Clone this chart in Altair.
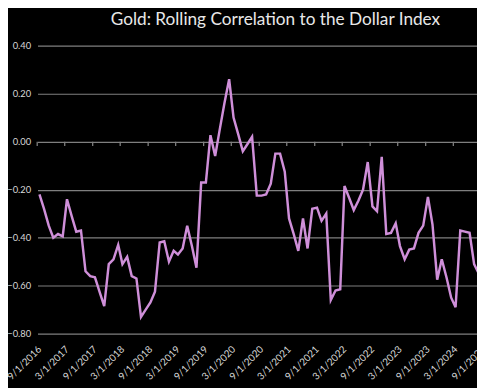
import altair as alt
import pandas as pd

# monthly rolling correlation, Sep 2016 .. Aug 2024
start_month = "2016-09-01"
corr = [
    -0.22, -0.28, -0.35, -0.40, -0.385, -0.395, -0.24, -0.31, -0.375, -0.37,
    -0.54, -0.56, -0.565, -0.625, -0.685, -0.51, -0.49, -0.43, -0.51, -0.48,
    -0.56, -0.57, -0.73, -0.70, -0.67, -0.625, -0.42, -0.415, -0.50, -0.455,
    -0.47, -0.445, -0.35, -0.435, -0.525, -0.17, -0.17, 0.027, -0.06, 0.05,
    0.16, 0.26, 0.10, 0.03, -0.04, -0.01, 0.02, -0.225, -0.225, -0.22,
    -0.175, -0.05, -0.05, -0.125, -0.32, -0.385, -0.455, -0.32, -0.445, -0.28,
    -0.275, -0.33, -0.30, -0.66, -0.62, -0.615, -0.185, -0.235, -0.285, -0.245,
    -0.20, -0.085, -0.27, -0.29, -0.063, -0.385, -0.38, -0.34, -0.435, -0.49,
    -0.45, -0.445, -0.38, -0.35, -0.23, -0.345, -0.575, -0.49, -0.565, -0.65,
    -0.69, -0.37, -0.375, -0.38, -0.51, -0.55,
]
label_dates = [
    "2016-09-01", "2017-03-01", "2017-09-01", "2018-03-01", "2018-09-01",
    "2019-03-01", "2019-09-01", "2020-03-01", "2020-09-01", "2021-03-01",
    "2021-09-01", "2022-03-01", "2022-09-01", "2023-03-01", "2023-09-01",
    "2024-03-01", "2024-09-01",
]
y_ticks = [-0.8, -0.6, -0.4, -0.2, 0.0, 0.2, 0.4]
title_text = "Gold: Rolling Correlation to the Dollar Index"

months = pd.date_range(start_month, periods=len(corr), freq="MS")
df = pd.DataFrame({"date": months.strftime("%Y-%m-%d"), "corr": corr})
ticks_df = pd.DataFrame({"date": label_dates, "base": [0.0] * len(label_dates)})


def dt(s):
    y, m, d = (int(p) for p in s.split("-"))
    return alt.DateTime(year=y, month=m, date=d, utc=True)


x_scale = alt.Scale(type="utc", domain=[dt("2016-08-19"), dt("2024-10-12")])
y_scale = alt.Scale(domain=[-0.8, 0.4], nice=False, zero=False)

FONT = "Lato"
GRID = "#7f7f7f"
TXT = "#d9d9d9"

x_axis = alt.Axis(
    values=[dt(s) for s in label_dates],
    format="%-m/%-d/%Y",
    labelAngle=-45,
    labelAlign="right",
    labelBaseline="middle",
    labelPadding=14,
    ticks=False,
    tickSize=0,
    domain=False,
    grid=False,
    labelColor=TXT,
    labelFont=FONT,
    labelFontSize=10,
    labelOverlap=False,
    labelBound=False,
    labelFlush=False,
    title=None,
)
y_axis = alt.Axis(
    values=y_ticks,
    format=".2f",
    ticks=False,
    tickSize=0,
    domain=False,
    grid=True,
    gridColor=GRID,
    gridWidth=1.2,
    labelColor=TXT,
    labelFont=FONT,
    labelFontSize=9.5,
    labelPadding=7,
    title=None,
)

line = alt.Chart(df).mark_line(color="#cf8fd9", strokeWidth=2.5, clip=True).encode(
    x=alt.X("date:T", scale=x_scale, axis=x_axis),
    y=alt.Y("corr:Q", scale=y_scale, axis=y_axis),
)

ticks = alt.Chart(ticks_df).mark_rule(
    color=GRID, strokeWidth=1.3, xOffset=-2.3, y2Offset=4.5
).encode(
    x=alt.X("date:T", scale=x_scale, axis=x_axis),
    y=alt.Y("base:Q", scale=y_scale, axis=y_axis),
    y2=alt.Y2("base:Q"),
)

chart = (
    alt.layer(ticks, line)
    .properties(
        width=460,
        height=293,
        padding={"left": 30, "top": 35, "right": -13, "bottom": 52},
        autosize=alt.AutoSizeParams(type="none"),
        title=alt.TitleParams(
            title_text,
            color="#e8e8e8",
            font=FONT,
            fontSize=17.5,
            fontWeight="normal",
            anchor="middle",
            dx=12,
            offset=12,
        ),
        background="#000000",
    )
    .configure_view(stroke=None)
    .configure_axis(labelOverlap=False)
)

chart.save("out.html", embed_options={"renderer": "svg", "actions": False})
